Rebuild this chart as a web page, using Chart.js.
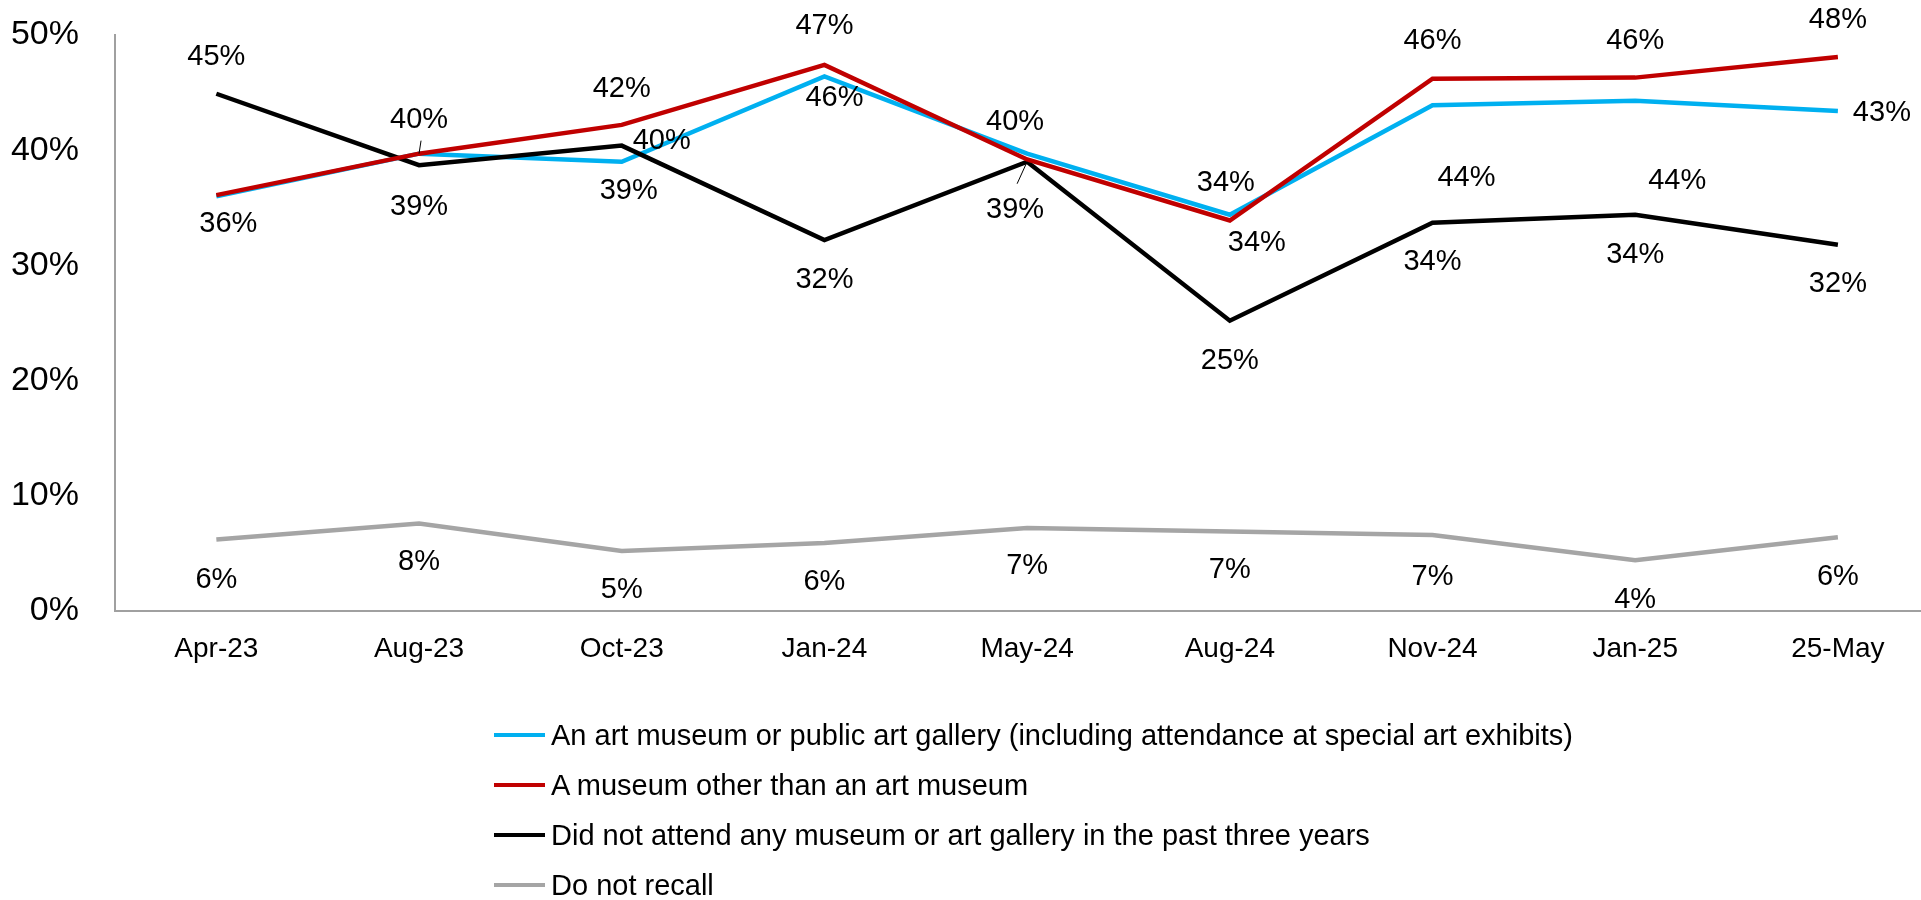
<!DOCTYPE html>
<html>
<head>
<meta charset="utf-8">
<script src="https://cdn.jsdelivr.net/npm/chart.js@4.4.1/dist/chart.umd.min.js"></script>
<style>
  html, body { margin: 0; padding: 0; background: #fff; overflow: hidden; }
  #wrap { position: relative; width: 1921px; height: 900px; }
  #legend { position: absolute; left: 494px; top: 710px; font-family: "Liberation Sans Narrow", "Liberation Sans", sans-serif; font-size: 29px; color: #000; }
  .item { display: flex; align-items: center; height: 50px; }
  .swatch { width: 51px; height: 4px; margin-right: 6px; }
</style>
</head>
<body>
<div id="wrap">
  <canvas id="chart" width="1921" height="900"></canvas>
  <div id="legend"></div>
</div>
<script>
const FONT = '"Liberation Sans Narrow", "Liberation Sans", sans-serif';

const months = ['Apr-23', 'Aug-23', 'Oct-23', 'Jan-24', 'May-24', 'Aug-24', 'Nov-24', 'Jan-25', '25-May'];

const seriesNames = [
    'An art museum or public art gallery (including attendance at special art exhibits)',
    'A museum other than an art museum',
    'Did not attend any museum or art gallery in the past three years',
    'Do not recall'
];

const artMuseum   = [36.0, 39.7, 39.0, 46.4, 39.7, 34.4, 43.9, 44.3, 43.4];
const otherMuseum = [36.1, 39.7, 42.2, 47.4, 39.2, 33.9, 46.2, 46.3, 48.1];
const didNotGo    = [44.9, 38.7, 40.4, 32.2, 39.0, 25.2, 33.7, 34.4, 31.8];
const noRecall    = [6.2, 7.6, 5.2, 5.9, 7.2, 6.9, 6.6, 4.4, 6.4];

const colors = ['#00B0F0', '#C00000', '#000000', '#A5A5A5'];

// where each value label sits relative to its point: [dx, dy], null = hidden,
// optional 3rd/4th entries = end of a small leader line from the point
const labelOffsets = [
    [[12, 28], null, [7, 29], [10, 22], [-12, -32], [-4, -32], [34, 73], [42, 80], [44, 2]],
    [null, [0, -34, 2, -13], [0, -36], [0, -39], null, [27, 23], [0, -38], [0, -37], [0, -37]],
    [[0, -37], [0, 42], [40, -5], [0, 40], [-12, 48, -10, 22], [0, 40], [0, 39], [0, 40], [0, 39]],
    [[0, 40], [0, 39], [0, 39], [0, 39], [0, 38], [0, 38], [0, 42], [0, 40], [0, 40]]
];

const allValues = [artMuseum, otherMuseum, didNotGo, noRecall];
const drawOrder = [2, 0, 1, 3];

const datasets = allValues.map((vals, idx) => ({
    label: seriesNames[idx],
    data: vals.map((v, i) => ({x: i, y: v})),
    borderColor: colors[idx],
    backgroundColor: colors[idx],
    borderWidth: 4.5,
    pointRadius: 0,
    tension: 0,
    fill: false,
    order: drawOrder[idx]
}));

const valueLabels = {
    id: 'valueLabels',
    afterDatasetsDraw(chart) {
        const ctx = chart.ctx;
        ctx.save();
        ctx.font = '29px ' + FONT;
        ctx.fillStyle = '#000';
        ctx.textAlign = 'center';
        ctx.textBaseline = 'middle';
        chart.data.datasets.forEach((ds, di) => {
            const meta = chart.getDatasetMeta(di);
            meta.data.forEach((pt, i) => {
                const off = labelOffsets[di][i];
                if (!off) return;
                ctx.fillText(Math.round(ds.data[i].y) + '%', pt.x + off[0], pt.y + off[1]);
                if (off.length > 2) {
                    ctx.strokeStyle = '#000';
                    ctx.lineWidth = 1;
                    ctx.beginPath();
                    ctx.moveTo(pt.x, pt.y);
                    ctx.lineTo(pt.x + off[2], pt.y + off[3]);
                    ctx.stroke();
                }
            });
        });
        ctx.restore();
    }
};

const chart = new Chart(document.getElementById('chart'), {
    type: 'line',
    data: { datasets: datasets },
    options: {
        responsive: false,
        animation: false,
        layout: { padding: { left: 0, right: 0, top: 35, bottom: 219 } },
        plugins: {
            legend: { display: false },
            tooltip: { enabled: false }
        },
        scales: {
            x: {
                type: 'linear',
                min: -0.5,
                max: 8.41,
                afterBuildTicks: (scale) => { scale.ticks = months.map((m, i) => ({value: i})); },
                afterFit: (scale) => {
                    scale.height = 70;
                    scale.paddingLeft = 0;
                    scale.paddingRight = 0;
                },
                ticks: {
                    callback: (v) => months[v],
                    font: { family: FONT, size: 28 },
                    color: '#000',
                    padding: 21,
                    maxRotation: 0,
                    autoSkip: false
                },
                grid: { display: false, drawTicks: false },
                border: { display: true, color: '#A0A0A0', width: 2 }
            },
            y: {
                min: 0,
                max: 50,
                afterFit: (scale) => {
                    scale.width = 115;
                    scale.paddingTop = 0;
                    scale.paddingBottom = 0;
                },
                ticks: {
                    stepSize: 10,
                    callback: (v) => v + '%',
                    font: { family: FONT, size: 34 },
                    color: '#000',
                    padding: 36
                },
                grid: { display: false, drawTicks: false },
                border: { display: true, color: '#A0A0A0', width: 2 }
            }
        }
    },
    plugins: [valueLabels]
});

// legend: one entry per row, like the original
const legendBox = document.getElementById('legend');
chart.data.datasets.forEach((ds) => {
    const row = document.createElement('div');
    row.className = 'item';
    const sw = document.createElement('span');
    sw.className = 'swatch';
    sw.style.background = ds.borderColor;
    const txt = document.createElement('span');
    txt.textContent = ds.label;
    row.appendChild(sw);
    row.appendChild(txt);
    legendBox.appendChild(row);
});
</script>
</body>
</html>
